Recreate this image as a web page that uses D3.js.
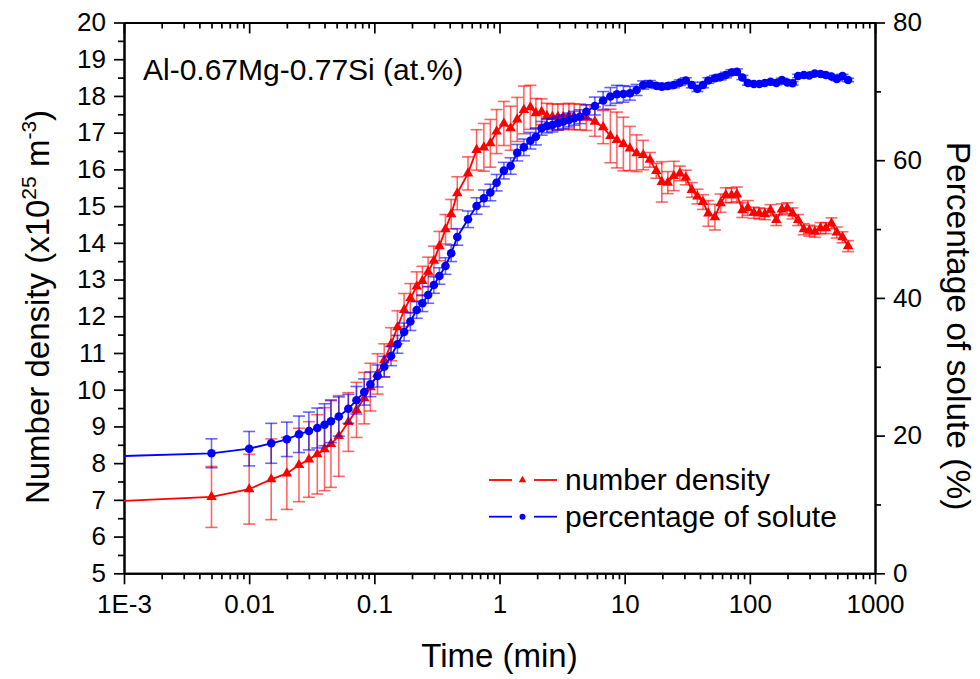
<!DOCTYPE html>
<html><head><meta charset="utf-8">
<script src="https://cdn.jsdelivr.net/npm/d3@7"></script>
<style>body{margin:0;background:#fff} text{font-family:"Liberation Sans",Arial,sans-serif;fill:#000}</style>
</head><body><svg id="c" width="980" height="679"></svg>
<script>
// ---- data (time in min) ----
const times = [0.001,0.005,0.01,0.015,0.02,0.025,0.03,0.035,0.04,0.045,0.052,0.062,0.072,0.083,0.093,0.106,0.120,0.136,0.153,0.173,0.194,0.218,0.242,0.269,0.299,0.331,0.370,0.411,0.460,0.560,0.656,0.750,0.845,0.948,1.084,1.227,1.385,1.566,1.765,1.954,2.169,2.391,2.647,2.926,3.227,3.584,3.951,4.386,4.944,5.78,6.73,7.69,8.67,9.77,11.01,12.45,14.06,15.9,17.9,19.8,22.1,24.7,27.6,30.8,34.4,38.1,42.2,46.6,52.6,58.4,64.3,71.4,78.8,87.1,96.4,107.7,119.1,131.8,146.4,162.8,180.2,199.4,219.5,243.3,270,298.6,330.4,367,404.9,449,495,549.8,609.8];
const numberDensity = [6.97,7.08,7.29,7.56,7.72,7.95,8.10,8.24,8.38,8.52,8.74,9.12,9.45,9.77,10.07,10.43,10.80,11.24,11.70,12.17,12.49,12.81,12.96,13.21,13.51,13.91,14.37,14.78,15.35,15.89,16.53,16.60,16.71,17.03,17.25,17.12,17.36,17.62,17.69,17.53,17.57,17.45,17.43,17.43,17.43,17.45,17.43,17.43,17.41,17.30,17.15,16.91,16.80,16.69,16.57,16.44,16.39,16.26,15.96,15.66,15.64,15.82,15.89,15.78,15.44,15.26,15.11,14.80,14.70,15.08,15.30,15.29,15.32,14.89,14.95,14.82,14.80,14.78,14.89,14.62,14.91,14.94,14.80,14.62,14.37,14.33,14.30,14.40,14.40,14.53,14.28,14.15,13.91];
const numberDensityErr = [null,0.83,0.95,1.1,0.98,1.0,1.03,1.08,1.13,1.18,1.1,0.8,0.75,0.7,0.65,0.55,0.45,0.45,0.45,0.45,0.4,0.4,0.4,0.4,0.4,0.4,0.4,0.4,0.45,0.45,0.55,0.65,0.65,0.6,0.6,0.6,0.6,0.65,0.6,0.4,0.35,0.35,0.35,0.35,0.35,0.35,0.35,0.35,0.35,0.4,0.45,0.73,0.76,0.73,0.6,0.5,0.4,0.2,0.2,0.55,0.3,0.4,0.2,0.2,0.2,0.2,0.2,0.35,0.35,0.25,0.2,0.2,0.2,0.2,0.2,0.15,0.15,0.15,0.15,0.15,0.15,0.15,0.15,0.15,0.15,0.15,0.15,0.15,0.15,0.15,0.15,0.15,0.15];
const soluteFraction = [17.04,17.43,18.10,18.88,19.46,20.19,20.67,21.10,21.58,22.08,22.77,23.89,25.14,26.33,27.45,28.66,30.01,31.56,33.26,35.05,36.57,38.24,39.22,40.42,41.87,43.18,44.63,46.48,48.85,51.42,53.35,54.47,55.31,56.73,58.48,59.16,61.09,61.87,62.83,63.41,64.63,64.97,65.11,65.36,65.59,65.84,66.09,66.32,67.04,67.87,68.67,69.25,69.57,69.62,69.72,70.20,70.92,71.07,70.82,70.68,70.78,70.92,71.26,71.58,70.92,70.37,70.92,71.58,71.90,72.08,72.37,72.74,72.85,72.01,71.21,71.07,71.07,71.21,71.40,71.21,71.65,71.29,71.17,72.23,72.37,72.30,72.59,72.52,72.37,72.16,71.79,72.23,71.65];
const soluteFractionErr = [null,2.1,2.5,2.9,2.5,2.65,2.75,2.9,3.05,3.1,2.85,2.1,2.0,1.9,1.8,1.6,1.5,1.4,1.3,1.3,1.3,1.2,1.2,1.2,1.2,1.2,1.2,1.2,1.2,1.2,1.2,1.2,1.2,1.2,1.2,1.2,1.2,1.2,1.2,1.2,1.0,1.0,1.0,1.0,1.0,1.0,1.0,1.0,1.0,1.3,1.3,1.3,1.3,1.2,1.0,0.8,0.6,0.5,0.4,0.4,0.4,0.4,0.4,0.4,0.4,0.4,0.4,0.4,0.4,0.4,0.4,0.4,0.4,0.3,0.3,0.25,0.25,0.25,0.25,0.25,0.25,0.25,0.25,0.25,0.25,0.25,0.25,0.25,0.25,0.25,0.25,0.25,0.25];
const xMajorTicks = [0.001,0.01,0.1,1,10,100,1000];
const xTickLabels = ["1E-3","0.01","0.1","1","10","100","1000"];
const yLeftTicks = [5,6,7,8,9,10,11,12,13,14,15,16,17,18,19,20];
const yRightTicks = [0,20,40,60,80];
const seriesNames = ["number density","percentage of solute"];
const annotation = "Al-0.67Mg-0.77Si (at.%)";

// ---- layout ----
const L=124, R=875, T=22.5, B=573.3;
const svg = d3.select("#c");
const x = d3.scaleLog().domain([0.001,1000]).range([L,R]);
const yL = d3.scaleLinear().domain([5,20]).range([B,T]);
const yR = d3.scaleLinear().domain([0,80]).range([B,T]);

const xMinor = [];
for (let e=-3;e<3;e++) for (let k=2;k<=9;k++) xMinor.push(k*Math.pow(10,e));
const yLMinor = d3.range(5.5,20,1);
const yRMinor = d3.range(10,80,20);

function styleAxis(g, fs){
  g.selectAll("path.domain").attr("stroke","#000").attr("stroke-width",2);
  g.selectAll(".tick line").attr("stroke","#000").attr("stroke-width",1.7);
  g.selectAll(".tick text").style("font-size",fs+"px").attr("fill","#000");
}
// bottom
svg.append("g").attr("transform",`translate(0,${B})`)
  .call(d3.axisBottom(x).tickValues(xMinor).tickSize(6).tickSizeOuter(0).tickFormat(""))
  .call(g=>styleAxis(g,26));
svg.append("g").attr("transform",`translate(0,${B})`)
  .call(d3.axisBottom(x).tickValues(xMajorTicks).tickSize(11).tickSizeOuter(0).tickPadding(10)
    .tickFormat((d,i)=>xTickLabels[i]))
  .call(g=>styleAxis(g,26));
// top (inward)
svg.append("g").attr("transform",`translate(0,${T})`)
  .call(d3.axisBottom(x).tickValues(xMinor).tickSize(6).tickSizeOuter(0).tickFormat(""))
  .call(g=>styleAxis(g,26));
svg.append("g").attr("transform",`translate(0,${T})`)
  .call(d3.axisBottom(x).tickValues(xMajorTicks).tickSize(11).tickSizeOuter(0).tickFormat(""))
  .call(g=>styleAxis(g,26));
// left
svg.append("g").attr("transform",`translate(${L},0)`)
  .call(d3.axisLeft(yL).tickValues(yLMinor).tickSize(6).tickSizeOuter(0).tickFormat(""))
  .call(g=>styleAxis(g,26));
svg.append("g").attr("transform",`translate(${L},0)`)
  .call(d3.axisLeft(yL).tickValues(yLeftTicks).tickSize(10).tickSizeOuter(0).tickPadding(8).tickFormat(d3.format("d")))
  .call(g=>styleAxis(g,26));
// right
svg.append("g").attr("transform",`translate(${R},0)`)
  .call(d3.axisRight(yR).tickValues(yRMinor).tickSize(6).tickSizeOuter(0).tickFormat(""))
  .call(g=>styleAxis(g,26));
svg.append("g").attr("transform",`translate(${R},0)`)
  .call(d3.axisRight(yR).tickValues(yRightTicks).tickSize(10).tickSizeOuter(0).tickPadding(8).tickFormat(d3.format("d")))
  .call(g=>styleAxis(g,26));

// ---- series ----
const red="#ff0000", blue="#0000ff";
const data = times.map((t,i)=>({t, nd:numberDensity[i], nde:numberDensityErr[i], sf:soluteFraction[i], sfe:soluteFractionErr[i]}));
const plot = svg.append("g");

function errorBars(acc, err, ys, color){
  const g = plot.append("g").attr("stroke",color).attr("stroke-width",1.6).attr("stroke-opacity",0.6).attr("fill","none");
  data.filter(d=>d[err]!=null).forEach(d=>{
    const cx=x(d.t), y1=ys(d[acc]-d[err]), y2=ys(d[acc]+d[err]);
    g.append("line").attr("x1",cx).attr("x2",cx).attr("y1",y1).attr("y2",y2);
    g.append("line").attr("x1",cx-6).attr("x2",cx+6).attr("y1",y1).attr("y2",y1);
    g.append("line").attr("x1",cx-6).attr("x2",cx+6).attr("y1",y2).attr("y2",y2);
  });
}
errorBars("nd","nde",yL,red);
plot.append("path").datum(data).attr("fill","none").attr("stroke",red).attr("stroke-width",1.8)
  .attr("d",d3.line().x(d=>x(d.t)).y(d=>yL(d.nd)));
plot.append("g").selectAll("path").data(data.slice(1)).join("path")
  .attr("transform",d=>`translate(${x(d.t)},${yL(d.nd)})`)
  .attr("d",d3.symbol(d3.symbolTriangle,48)).attr("fill",red);

errorBars("sf","sfe",yR,blue);
plot.append("path").datum(data).attr("fill","none").attr("stroke",blue).attr("stroke-width",1.8)
  .attr("d",d3.line().x(d=>x(d.t)).y(d=>yR(d.sf)));
plot.append("g").selectAll("circle").data(data.slice(1)).join("circle")
  .attr("cx",d=>x(d.t)).attr("cy",d=>yR(d.sf)).attr("r",4.3).attr("fill",blue);

// ---- legend ----
const lg = svg.append("g");
[[red,"tri",480],[blue,"cir",516.7]].forEach(([c,m,yy],i)=>{
  lg.append("line").attr("x1",489).attr("x2",512).attr("y1",yy).attr("y2",yy).attr("stroke",c).attr("stroke-width",1.8);
  lg.append("line").attr("x1",534).attr("x2",557).attr("y1",yy).attr("y2",yy).attr("stroke",c).attr("stroke-width",1.8);
  if(m==="tri") lg.append("path").attr("transform",`translate(522.5,${yy})`).attr("d",d3.symbol(d3.symbolTriangle,24)).attr("fill",c);
  else lg.append("circle").attr("cx",522.5).attr("cy",yy).attr("r",3).attr("fill",c);
  lg.append("text").attr("x",565).attr("y",yy+10).style("font-size","30px").text(seriesNames[i]);
});

// ---- texts ----
svg.append("text").attr("x",143).attr("y",80).style("font-size","30px").text(annotation);
svg.append("text").attr("x",(L+R)/2).attr("y",667).attr("text-anchor","middle").style("font-size","33px").text("Time (min)");
const lt = svg.append("text").attr("transform",`translate(49,307) rotate(-90)`).attr("text-anchor","middle").style("font-size","33px");
lt.append("tspan").text("Number density (x10");
lt.append("tspan").attr("dy",-13).style("font-size","21px").text("25");
lt.append("tspan").attr("dy",13).text(" m");
lt.append("tspan").attr("dy",-13).style("font-size","21px").text("-3");
lt.append("tspan").attr("dy",13).text(")");
svg.append("text").attr("transform",`translate(947,326) rotate(90)`).attr("text-anchor","middle").style("font-size","33.5px").text("Percentage of solute (%)");
</script></body></html>
